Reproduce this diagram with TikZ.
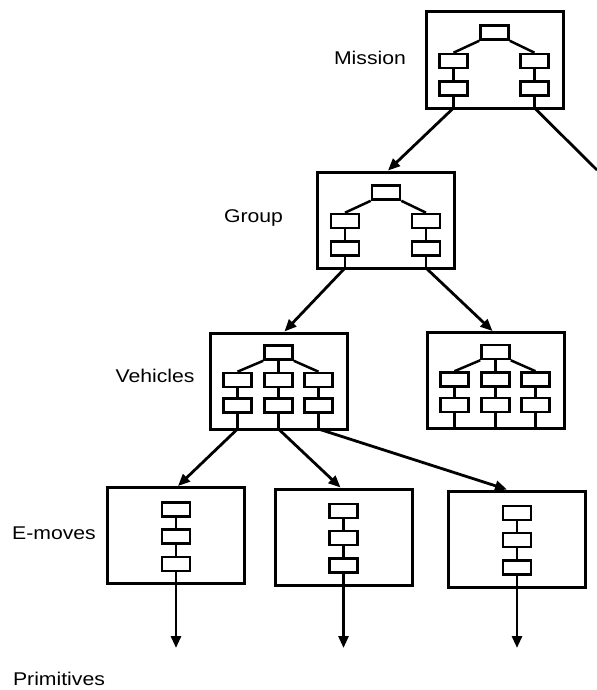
\documentclass[tikz,border=0pt]{standalone}
\usepackage{fontspec}
\setmainfont{Liberation Sans}
\usetikzlibrary{arrows.meta,calc}
\tikzset{
  bigbox/.style={draw,line width=3bp,minimum width=137bp,minimum height=96bp,inner sep=0pt},
  mini/.style={draw,line width=2.6bp,minimum width=28bp,minimum height=14bp,inner sep=0pt},
  link/.style={line width=2.5bp},
  arr/.style={line width=2.8bp,-{Triangle[length=12bp,width=10bp]}},
  plain/.style={line width=2.8bp},
  lbl/.style={font=\fontsize{18.5}{22}\selectfont,inner sep=0pt},
  twotree/.pic={
    \node[bigbox] (-box) at (0,0) {};
    \node[mini] (-t) at (0,-27.5) {};
    \node[mini] (-a1) at (-41,1) {};
    \node[mini] (-a2) at (-41,28.5) {};
    \node[mini] (-b1) at (40,1) {};
    \node[mini] (-b2) at (40,28.5) {};
    \coordinate (-ao) at (-41,48);
    \coordinate (-bo) at (40,48);
    \draw[link] (-t.south west) -- (-a1.north);
    \draw[link] (-t.south east) -- (-b1.north);
    \draw[link] (-a1) -- (-a2);
    \draw[link] (-b1) -- (-b2);
    \draw[link] (-a2) -- (-ao);
    \draw[link] (-b2) -- (-bo);
  },
  threetree/.pic={
    \node[bigbox] (-box) at (0,0) {};
    \node[mini] (-t) at (0,-28.5) {};
    \node[mini] (-a1) at (-41,-1) {};
    \node[mini] (-a2) at (-41,24.5) {};
    \node[mini] (-b1) at (0,-1) {};
    \node[mini] (-b2) at (0,24.5) {};
    \node[mini] (-c1) at (40,-1) {};
    \node[mini] (-c2) at (40,24.5) {};
    \coordinate (-ao) at (-41,48);
    \coordinate (-bo) at (0,48);
    \coordinate (-co) at (40,48);
    \draw[link] (-t.south west) -- (-a1.north);
    \draw[link] (-t.south) -- (-b1.north);
    \draw[link] (-t.south east) -- (-c1.north);
    \draw[link] (-a1) -- (-a2);
    \draw[link] (-b1) -- (-b2);
    \draw[link] (-c1) -- (-c2);
    \draw[link] (-a2) -- (-ao);
    \draw[link] (-b2) -- (-bo);
    \draw[link] (-c2) -- (-co);
  },
  chain/.pic={
    \node[bigbox] (-box) at (0,0) {};
    \node[mini] (-r1) at (0,-26) {};
    \node[mini] (-r2) at (0,1) {};
    \node[mini] (-r3) at (0,28.5) {};
    \coordinate (-o) at (0,48);
    \draw[link] (-r1) -- (-r2);
    \draw[link] (-r2) -- (-r3);
    \draw[link] (-r3) -- (-o);
  }
}
\begin{document}
\begin{tikzpicture}[x=1bp,y=-1bp]
\useasboundingbox (0,0) rectangle (597,690);
\pic (M) at (494.5,60) {twotree};
\pic (G) at (386,220) {twotree};
\pic (VL) at (278.5,381) {threetree};
\pic (VR) at (495.5,380.5) {threetree};
\pic (E1) at (176,535.5) {chain};
\pic (E2) at (343.5,537) {chain};
\pic (E3) at (517,539) {chain};
\coordinate (off) at (597,170);
\coordinate (p1) at (176,648);
\coordinate (p2) at (343.5,648);
\coordinate (p3) at (517,648);
\draw[arr] (M-ao) -- ([xshift=2bp]G-box.north);
\draw[plain] (M-bo) -- (off);
\draw[arr] (G-ao) -- ([xshift=6bp]VL-box.north);
\draw[arr] (G-bo) -- ([xshift=-3bp]VR-box.north);
\draw[arr] (VL-ao) -- ([xshift=2bp]E1-box.north);
\draw[arr] (VL-bo) -- ([xshift=-3bp]E2-box.north);
\draw[arr] (VL-co) -- ([xshift=-10bp]E3-box.north);
\draw[arr] (E1-o) -- (p1);
\draw[arr] (E2-o) -- (p2);
\draw[arr] (E3-o) -- (p3);
\node[lbl] (lm) at (370,58) {\scalebox{1.15}[1]{Mission}};
\node[lbl] (lg) at (253.5,218) {\scalebox{1.15}[1]{Group}};
\node[lbl] (lv) at (155,376) {\scalebox{1.15}[1]{Vehicles}};
\node[lbl] (le) at (54,533) {\scalebox{1.15}[1]{E-moves}};
\node[lbl] (lp) at (59,679) {\scalebox{1.15}[1]{Primitives}};
\end{tikzpicture}
\end{document}
